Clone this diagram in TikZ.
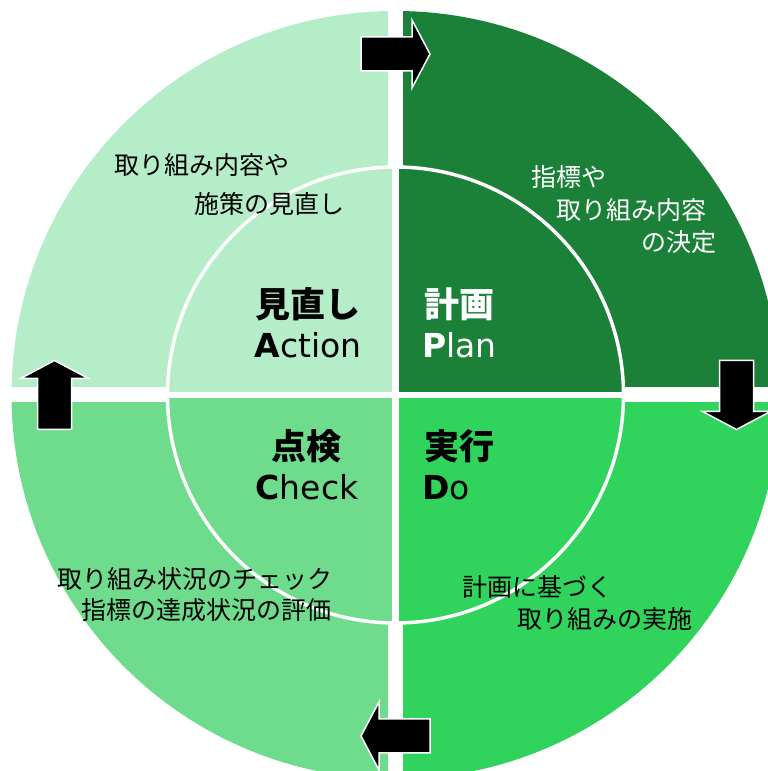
\documentclass[tikz,border=0pt]{standalone}
\usepackage{fontspec}
\setmainfont{DejaVu Sans}
\newfontfamily\jpfont{Noto Sans CJK JP}
\definecolor{actcol}{RGB}{180,237,200}
\definecolor{plancol}{RGB}{27,128,56}
\definecolor{docol}{RGB}{48,212,92}
\definecolor{chkcol}{RGB}{110,220,140}
\tikzset{
  mainjp/.style={font=\jpfont\bfseries\fontsize{35}{40}\selectfont, inner sep=0pt, anchor=base},
  mainen/.style={font=\fontsize{33}{38}\selectfont, inner sep=0pt, anchor=base},
  subjp/.style={font=\jpfont\fontsize{25}{30}\selectfont, inner sep=0pt, anchor=base west},
  blockarrow/.style={fill=black, draw=white, line width=1.5pt, line join=miter},
}
\begin{document}
\begin{tikzpicture}[x=1pt,y=1pt]
    \useasboundingbox (0,0) rectangle (768,771);
    \clip (0,0) rectangle (768,771);
    \coordinate (c) at (395.5,376);
    % Outer quadrants
    \fill[plancol] (c) -- ++(0:384) arc[start angle=0, end angle=90, radius=384] -- cycle;
    \fill[actcol] (c) -- ++(90:384) arc[start angle=90, end angle=180, radius=384] -- cycle;
    \fill[chkcol] (c) -- ++(180:384) arc[start angle=180, end angle=270, radius=384] -- cycle;
    \fill[docol] (c) -- ++(270:384) arc[start angle=270, end angle=360, radius=384] -- cycle;
    % Wide gaps
    \draw[white, line width=15pt] (0,376) -- (768,376);
    \draw[white, line width=15pt] (395.5,0) -- (395.5,771);
    % Inner disk
    \fill[plancol] (c) -- ++(0:228) arc[start angle=0, end angle=90, radius=228] -- cycle;
    \fill[actcol] (c) -- ++(90:228) arc[start angle=90, end angle=180, radius=228] -- cycle;
    \fill[chkcol] (c) -- ++(180:228) arc[start angle=180, end angle=270, radius=228] -- cycle;
    \fill[docol] (c) -- ++(270:228) arc[start angle=270, end angle=360, radius=228] -- cycle;
    \draw[white, line width=6.5pt] (167.5,376) -- (623.5,376);
    \draw[white, line width=6.5pt] (395.5,148) -- (395.5,604);
    \draw[white, line width=3.5pt] (c) circle[radius=228];
    % Cycle arrows
    \foreach \a/\d in {90/0, 0/-90, 270/180, 180/90}
        \draw[blockarrow, shift={(395.5,376)}, shift={(\a:341)}, rotate=\d]
            (-34.5,-17) -- (16.5,-17) -- (16.5,-34) -- (34.5,0) -- (16.5,34) -- (16.5,17) -- (-34.5,17) -- cycle;
    % Main labels
    \node[mainjp] (act) at (308,453.5) {見直し};
    \node[mainen] (actEn) at (308,413) {\textbf{A}ction};
    \node[mainjp, anchor=base west, white] (plan) at (424,453.5) {計画};
    \node[mainen, anchor=base west, white] (planEn) at (422,413) {\textbf{P}lan};
    \node[mainjp] (chk) at (306,311.5) {点検};
    \node[mainen] (chkEn) at (307,271) {\textbf{C}heck};
    \node[mainjp, anchor=base west] (do) at (424,311.5) {実行};
    \node[mainen, anchor=base west] (doEn) at (422,271) {\textbf{D}o};
    % Descriptions
    \node[subjp] (actA) at (114,596) {取り組み内容や};
    \node[subjp] (actB) at (194,557) {施策の見直し};
    \node[subjp, white] (planA) at (531,584) {指標や};
    \node[subjp, white] (planB) at (556,551) {取り組み内容};
    \node[subjp, white] (planC) at (641,519) {の決定};
    \node[subjp] (chkA) at (57,182) {取り組み状況のチェック};
    \node[subjp] (chkB) at (81,151) {指標の達成状況の評価};
    \node[subjp] (doA) at (462,174) {計画に基づく};
    \node[subjp] (doB) at (517,142) {取り組みの実施};
\end{tikzpicture}
\end{document}
